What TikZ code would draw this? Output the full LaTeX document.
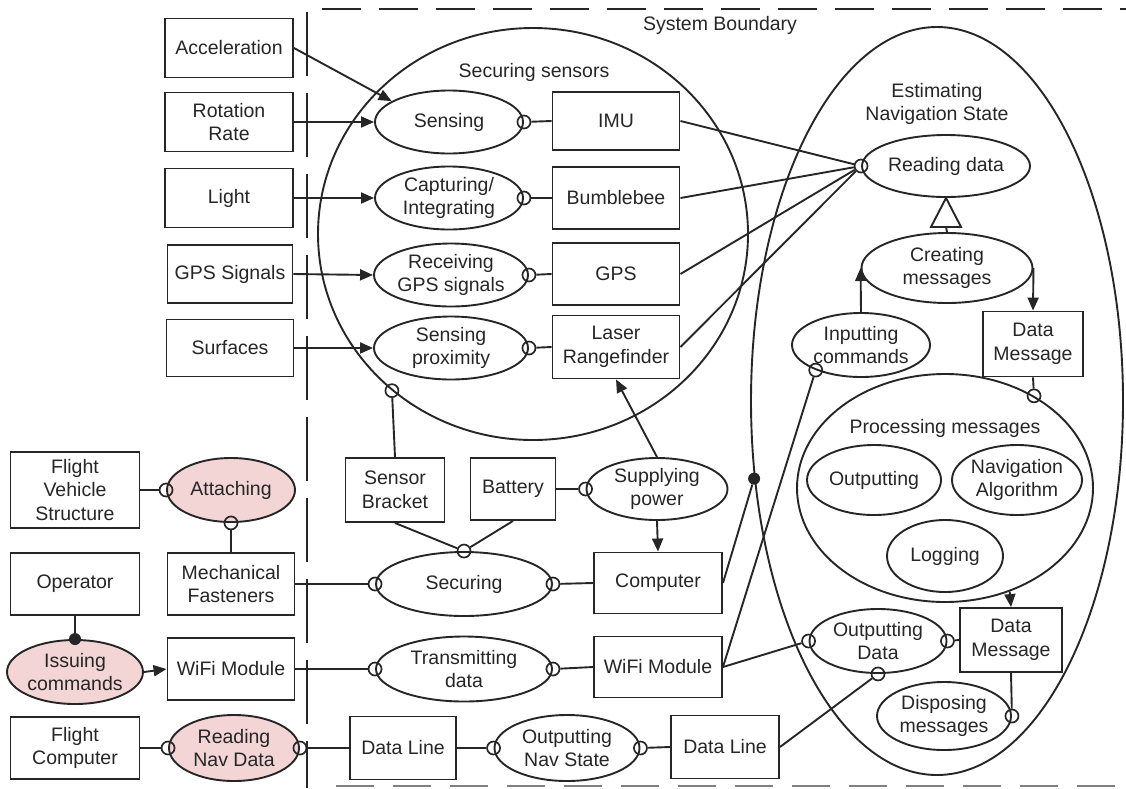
\documentclass[tikz,border=0pt]{standalone}
\usepackage{fontspec}
\setmainfont{Liberation Sans}
\usetikzlibrary{shapes.geometric,arrows.meta,calc}
\definecolor{ink}{RGB}{38,38,38}
\definecolor{procpink}{RGB}{243,213,213}
\newcommand\dgfont{\fontsize{19.5pt}{23.5pt}\selectfont}

\tikzset{
  every node/.style={font=\dgfont, text=ink},
  obj/.style={draw=ink, fill=white, rectangle, line width=1.9pt, inner sep=0pt, align=center},
  box/.style 2 args={obj, minimum width=#1pt, minimum height=#2pt},
  procshape/.style={draw=ink, ellipse, line width=1.9pt, inner sep=0pt},
  pr/.style n args={3}{procshape, minimum width=#1pt, minimum height=#2pt,
    label={[align=center]center:#3}},
  hl/.style={fill=procpink},
  inst/.style={circle, draw=ink, line width=1.7pt, minimum size=13pt, inner sep=0pt},
  agentdot/.style={circle, fill=ink, minimum size=12pt, inner sep=0pt},
  link/.style={draw=ink, line width=1.9pt},
  flow/.style={link, -{Triangle[length=13pt,width=11pt]}},
  boundary/.style={draw=ink, line width=1.9pt},
  caption/.style={align=center}
}

\begin{document}
\begin{tikzpicture}[x=1pt,y=-1pt]
\useasboundingbox (0,0) rectangle (1126,788);

% system boundary
\draw[boundary, dash pattern=on 39pt off 18pt] (322,9) -- (1126,9);
\draw[boundary, dash pattern=on 64pt off 17pt] (307,12) -- (307,788);
\draw[boundary, draw=gray, line width=2.8pt, dash pattern=on 38pt off 19pt] (336,786) -- (1126,786);
\node[caption] (tsys) at (720,25) {System Boundary};

% enclosing processes
\node[procshape, minimum width=430pt, minimum height=412pt] (secs) at (533,234) {};
\node[caption] (tsecs) at (534,72) {Securing sensors};
\node[procshape, minimum width=372pt, minimum height=748pt] (nav) at (937,401) {};
\node[caption] (tnav) at (937,104) {Estimating\\Navigation State};
\node[procshape, minimum width=296pt, minimum height=228pt] (procm) at (945,488) {};
\node[caption] (tprocm) at (945,428) {Processing messages};

% objects
\node[box={128}{59}] (acc) at (229,48) {Acceleration};
\node[box={128}{59}] (rot) at (229,122) {Rotation\\Rate};
\node[box={128}{59}] (lit) at (229,198) {Light};
\node[box={125}{58}] (gpss) at (230,274) {GPS Signals};
\node[box={127}{57}] (surf) at (230,348) {Surfaces};
\node[box={129}{76}] (fvs) at (75,490) {Flight\\Vehicle\\Structure};
\node[box={129}{62}] (oper) at (75,584) {Operator};
\node[box={127}{62}] (mech) at (231,584) {Mechanical\\Fasteners};
\node[box={127}{62}] (wifiL) at (231,669) {WiFi Module};
\node[box={129}{62}] (fcomp) at (75,748) {Flight\\Computer};
\node[box={127}{58}] (imu) at (616,121) {IMU};
\node[box={127}{62}] (bee) at (616,198) {Bumblebee};
\node[box={127}{62}] (gps) at (616,274) {GPS};
\node[box={127}{63}] (laser) at (616,347) {Laser\\Rangefinder};
\node[box={99}{64}] (brkt) at (395,490) {Sensor\\Bracket};
\node[box={85}{62}] (batt) at (513,489) {Battery};
\node[box={128}{61}] (comp) at (658,583) {Computer};
\node[box={128}{61}] (wifiR) at (658,667) {WiFi Module};
\node[box={106}{63}] (dlL) at (403,748) {Data Line};
\node[box={108}{63}] (dlR) at (725,747) {Data Line};
\node[box={100}{65}] (dm1) at (1033,344) {Data\\Message};
\node[box={102}{64}] (dm2) at (1011,640) {Data\\Message};

% processes
\node[pr={148}{63}{Sensing}] (sens) at (449,122) {};
\node[pr={148}{63}{Capturing/\\Integrating}] (capt) at (449,198) {};
\node[pr={154}{63}{Receiving\\GPS signals}] (recv) at (451,275) {};
\node[pr={154}{63}{Sensing\\proximity}] (prox) at (451,348) {};
\node[pr={128}{64}{Attaching}, hl] (attach) at (231,490) {};
\node[pr={136}{64}{Issuing\\commands}, hl] (issue) at (75,672) {};
\node[pr={130}{66}{Reading\\Nav Data}, hl] (readnav) at (234,748) {};
\node[pr={141}{62}{Supplying\\power}] (supply) at (657,489) {};
\node[pr={176}{64}{Securing}] (secur) at (464,584) {};
\node[pr={176}{65}{Transmitting\\data}] (trans) at (464,669) {};
\node[pr={145}{66}{Outputting\\Nav State}] (outnav) at (567,748) {};
\node[pr={168}{62}{Reading data}] (read) at (946,166) {};
\node[pr={171}{70}{Creating\\messages}] (create) at (947,268) {};
\node[pr={138}{64}{Inputting\\commands}] (inp) at (861,345) {};
\node[pr={134}{70}{Outputting}] (outp) at (874,480) {};
\node[pr={130}{70}{Navigation\\Algorithm}] (navalg) at (1017,480) {};
\node[pr={116}{72}{Logging}] (logg) at (945,556) {};
\node[pr={137}{64}{Outputting\\Data}] (outd) at (878,641) {};
\node[pr={134}{68}{Disposing\\messages}] (disp) at (944,716) {};

% instrument link ends
\node[inst] (i-sens) at (sens.east) {};
\node[inst] (i-capt) at (capt.east) {};
\node[inst] (i-recv) at (recv.east) {};
\node[inst] (i-prox) at (prox.east) {};
\node[inst] (i-read) at (read.west) {};
\node[inst] (i-secs) at (secs.228.5) {};
\node[inst] (i-secur-n) at (secur.north) {};
\node[inst] (i-secur-w) at (secur.west) {};
\node[inst] (i-secur-e) at (secur.east) {};
\node[inst] (i-trans-w) at (trans.west) {};
\node[inst] (i-trans-e) at (trans.east) {};
\node[inst] (i-supply) at (supply.west) {};
\node[inst] (i-attach-w) at (attach.west) {};
\node[inst] (i-attach-s) at (attach.south) {};
\node[inst] (i-readnav-w) at (readnav.west) {};
\node[inst] (i-readnav-e) at (readnav.east) {};
\node[inst] (i-outnav-w) at (outnav.west) {};
\node[inst] (i-outnav-e) at (outnav.east) {};
\node[inst] (i-inp) at (inp.209) {};
\node[inst] (i-procm) at (procm.46) {};
\node[inst] (i-outd-w) at (outd.west) {};
\node[inst] (i-outd-e) at (outd.east) {};
\node[inst] (i-outd-s) at (outd.south) {};
\node[inst] (i-disp) at (disp.east) {};

% agent link ends
\node[agentdot] (a-issue) at (issue.north) {};
\node[agentdot] (a-nav) at (nav.203) {};

% inputs from the environment
\draw[flow] (acc.east) -- (sens.160);
\draw[flow] (rot.east) -- (sens.west);
\draw[flow] (lit.east) -- (capt.west);
\draw[flow] (gpss.east) -- (recv.west);
\draw[flow] (surf.east) -- (prox.west);

% sensors
\draw[link] (i-sens) -- (imu.west);
\draw[link] (i-capt) -- (bee.west);
\draw[link] (i-recv) -- (gps.west);
\draw[link] (i-prox) -- (laser.west);
\draw[link] (imu.east) -- (i-read);
\draw[link] (bee.east) -- (i-read);
\draw[link] (gps.east) -- (i-read);
\draw[link] (laser.east) -- (i-read);

% mounting and power
\draw[link] (brkt.north) -- (i-secs);
\draw[link] (brkt.south) -- (i-secur-n);
\draw[link] (batt.south) -- (i-secur-n);
\draw[link] (batt.east) -- (i-supply);
\draw[flow] (supply.north) -- (laser.south);
\draw[flow] (supply.south) -- (comp.north);
\draw[link] (mech.east) -- (i-secur-w);
\draw[link] (i-secur-e) -- (comp.west);
\draw[link] (fvs.east) -- (i-attach-w);
\draw[link] (i-attach-s) -- (mech.north);

% commands
\draw[link] (oper.south) -- (a-issue);
\draw[flow] (issue.east) -- (wifiL.west);
\draw[link] (wifiL.east) -- (i-trans-w);
\draw[link] (i-trans-e) -- (wifiR.west);
\draw[link] (wifiR.east) -- (i-inp);
\draw[link] (wifiR.east) -- (i-outd-w);
\draw[link] (comp.east) -- (a-nav);

% navigation output
\draw[link] (fcomp.east) -- (i-readnav-w);
\draw[link] (i-readnav-e) -- (dlL.west);
\draw[link] (dlL.east) -- (i-outnav-w);
\draw[link] (i-outnav-e) -- (dlR.west);
\draw[link] (dlR.east) -- (i-outd-s);

% inside the estimator
\coordinate (gbase) at ($(read.south)+(0,29)$);
\draw[link, fill=white] (read.south) -- ($(gbase)+(-15,0)$) -- ($(gbase)+(15,0)$) -- cycle;
\draw[link] (gbase) -- (create.north);
\draw[flow] (inp.north) -- (create.west);
\draw[flow] (create.east) -- (dm1.north);
\draw[link] (dm1.south) -- (i-procm);
\draw[flow] (procm.302.5) -- (dm2.north);
\draw[link] (i-outd-e) -- (dm2.west);
\draw[link] (dm2.south) -- (i-disp);
\end{tikzpicture}
\end{document}
